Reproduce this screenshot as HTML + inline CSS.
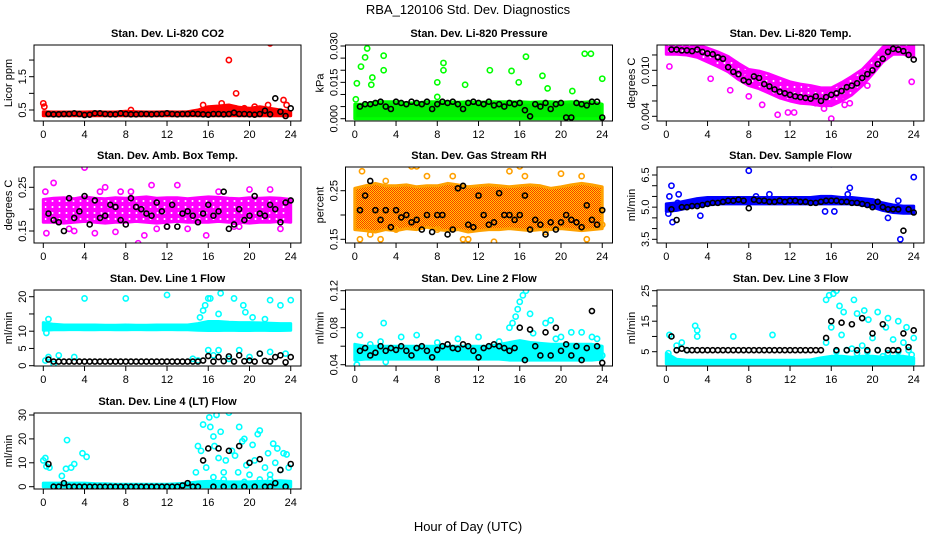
<!DOCTYPE html>
<html><head><meta charset="utf-8"><style>
html,body{margin:0;padding:0;background:#fff;}
svg{display:block;font-family:"Liberation Sans",Arial,sans-serif;}
</style></head><body>
<svg id="chart" width="936" height="540" viewBox="0 0 936 540" xmlns="http://www.w3.org/2000/svg">
<defs>
<pattern id="rhpat" width="2" height="2" patternUnits="userSpaceOnUse"><rect width="2" height="2" fill="#ffd200"/><rect width="1" height="1" fill="#ff3000"/><rect x="1" y="1" width="1" height="1" fill="#ff3000"/></pattern>
<pattern id="magpat" width="7" height="6" patternUnits="userSpaceOnUse"><rect width="7" height="6" fill="#ff00ff"/><circle cx="3.5" cy="3" r="1" fill="#ffffff"/></pattern>
</defs>
<text x="468" y="14" font-size="13" text-anchor="middle">RBA_120106  Std. Dev. Diagnostics</text>
<text x="468" y="531" font-size="13" text-anchor="middle">Hour of Day (UTC)</text>
<g id="plots"></g>
</svg>
<script>
// ---- data arrays (hours 0..24 for bands; black points at 0.5,1.0,...,24) ----
const xTicks = [0,4,8,12,16,20,24];

const co2BandLo = [0.33,0.33,0.33,0.33,0.33,0.33,0.33,0.33,0.33,0.33,0.33,0.33,0.33,0.33,0.33,0.33,0.33,0.33,0.33,0.33,0.33,0.33,0.33,0.33,0.33];
const co2BandHi = [0.45,0.44,0.44,0.44,0.44,0.45,0.44,0.44,0.46,0.45,0.44,0.44,0.45,0.44,0.45,0.5,0.6,0.62,0.65,0.58,0.55,0.6,0.55,0.5,0.45];
const co2Pts = [0,0.7,0.1,0.6,8.5,0.5,15.5,0.65,17.3,0.7,18,2.0,18.7,1.0,18.6,0.55,19.5,0.55,22,2.5,21.8,0.65,23.3,0.8,23.6,0.65,20.5,0.6];
const co2Black = [0.38,0.37,0.37,0.38,0.38,0.4,0.38,0.35,0.36,0.4,0.4,0.38,0.37,0.37,0.4,0.38,0.37,0.37,0.38,0.38,0.37,0.38,0.38,0.4,0.38,0.37,0.38,0.38,0.39,0.38,0.37,0.36,0.38,0.38,0.37,0.38,0.42,0.38,0.38,0.37,0.36,0.38,0.48,0.37,0.85,0.45,0.32,0.55];

const presBandLo = [0,0,0,0,0,0,0,0,0,0,0,0,0,0,0,0,0,0,0,0,0,0,0,0,0];
const presBandHi = [0.006,0.006,0.007,0.007,0.007,0.0065,0.0065,0.007,0.007,0.007,0.0068,0.007,0.0068,0.007,0.007,0.007,0.007,0.0068,0.007,0.007,0.0068,0.007,0.0068,0.007,0.006];
const presPts = [0.1,0.008,0.2,0.0146,0.6,0.0215,1.0,0.0253,1.2,0.029,1.7,0.017,1.6,0.014,2.8,0.020,2.8,0.026,8.0,0.015,8.0,0.009,8.6,0.023,8.6,0.020,10.7,0.014,13.1,0.020,15.2,0.0197,15.9,0.015,16.6,0.0256,18.2,0.0177,18.7,0.0125,21.1,0.0114,22.3,0.0268,22.9,0.0268,24.0,0.0165];
const presBlack = [0.005,0.006,0.006,0.0065,0.007,0.005,0.004,0.007,0.0065,0.006,0.007,0.0065,0.006,0.007,0.004,0.006,0.007,0.0065,0.007,0.006,0.004,0.0065,0.007,0.0065,0.006,0.007,0.0055,0.006,0.005,0.0065,0.006,0.0065,0.0035,0.001,0.006,0.005,0.0065,0.004,0.006,0.0065,0.0005,0.0005,0.0065,0.006,0.0055,0.007,0.007,0.0005];

const tempBandLo = [0.0121,0.0121,0.0120,0.0117,0.0111,0.0105,0.0098,0.0088,0.0080,0.0076,0.0070,0.0064,0.0060,0.0057,0.0056,0.0054,0.0054,0.0060,0.0068,0.0080,0.0095,0.0111,0.0121,0.0121,0.0117];
const tempBandHi = [0.0136,0.0136,0.0135,0.0133,0.0129,0.0124,0.0118,0.0109,0.0101,0.0099,0.0095,0.0090,0.0085,0.0082,0.0080,0.0077,0.0077,0.0084,0.0092,0.0101,0.0115,0.0130,0.0136,0.0136,0.0133];
const tempPts = [0.3,0.0105,4.3,0.0089,6.2,0.0074,8,0.0066,10.8,0.0042,11.8,0.0045,12.4,0.0045,15.3,0.0050,16,0.0037,17.3,0.0055,17.8,0.0057,19.5,0.0080,23.8,0.0085,9.3,0.0055,14.5,0.0057,7.5,0.0095,13,0.0078];
const tempBlack = [0.0127,0.0127,0.0126,0.0126,0.0125,0.0127,0.0124,0.0122,0.0121,0.0117,0.0115,0.0104,0.0098,0.0095,0.0087,0.0085,0.0092,0.0090,0.0082,0.0079,0.0075,0.0072,0.0070,0.0068,0.0066,0.0065,0.0064,0.0063,0.0066,0.0060,0.0065,0.0068,0.0070,0.0073,0.0078,0.0080,0.0083,0.0090,0.0095,0.0100,0.0108,0.0115,0.0124,0.0128,0.0127,0.0125,0.0120,0.0114];

const ambBandLo = [0.17,0.17,0.168,0.17,0.172,0.17,0.168,0.17,0.17,0.172,0.17,0.168,0.17,0.172,0.17,0.17,0.17,0.172,0.17,0.17,0.168,0.17,0.17,0.172,0.17];
const ambBandHi = [0.222,0.225,0.226,0.224,0.228,0.225,0.224,0.226,0.225,0.226,0.228,0.225,0.226,0.226,0.224,0.226,0.228,0.227,0.225,0.224,0.226,0.225,0.226,0.225,0.222];
const ambPts = [4,0.295,1,0.26,7.5,0.24,8.5,0.24,10.5,0.255,13,0.255,17,0.24,0.3,0.145,2.5,0.155,7,0.148,9.8,0.14,11,0.155,14,0.155,15.8,0.14,18.5,0.16,23,0.155,9.2,0.122,22,0.245,6,0.25,3,0.15,20,0.245,12,0.16,5,0.145,19,0.16,0.2,0.24,5.5,0.24];
const ambBlack = [0.19,0.175,0.17,0.15,0.225,0.18,0.195,0.23,0.165,0.22,0.18,0.185,0.21,0.205,0.175,0.165,0.225,0.205,0.2,0.19,0.185,0.215,0.195,0.16,0.21,0.16,0.19,0.195,0.185,0.17,0.19,0.21,0.185,0.195,0.24,0.155,0.165,0.2,0.175,0.185,0.23,0.19,0.185,0.21,0.2,0.17,0.215,0.22];

const rhBandLo = [0.17,0.168,0.165,0.17,0.168,0.172,0.17,0.175,0.17,0.168,0.17,0.165,0.168,0.17,0.17,0.172,0.17,0.168,0.17,0.17,0.172,0.17,0.168,0.17,0.172];
const rhBandHi = [0.255,0.26,0.265,0.26,0.26,0.262,0.258,0.26,0.26,0.265,0.262,0.258,0.26,0.262,0.26,0.258,0.26,0.262,0.26,0.255,0.258,0.262,0.265,0.262,0.258];
const rhPts = [0.5,0.15,0.7,0.29,2.5,0.15,3,0.27,5.5,0.3,6,0.3,7,0.28,8,0.17,9.5,0.28,10.5,0.15,11,0.15,13.5,0.145,15,0.29,16,0.3,16.5,0.28,18.5,0.165,22,0.28,22.5,0.15,24,0.18,4,0.17,20,0.285,1.5,0.16];
const rhBlack = [0.21,0.24,0.27,0.21,0.19,0.21,0.175,0.21,0.195,0.2,0.185,0.19,0.17,0.2,0.165,0.2,0.2,0.16,0.17,0.255,0.26,0.18,0.175,0.24,0.2,0.18,0.185,0.245,0.2,0.2,0.19,0.2,0.24,0.17,0.19,0.18,0.16,0.185,0.17,0.185,0.2,0.19,0.185,0.175,0.22,0.19,0.18,0.21];

const flowBandLo = [4.8,4.85,4.95,5.05,5.1,5.15,5.15,5.15,5.15,5.15,5.15,5.15,5.15,5.15,5.15,5.15,5.15,5.15,5.15,5.1,5.0,4.85,4.75,4.72,4.72];
const flowBandHi = [5.15,5.2,5.3,5.4,5.45,5.45,5.45,5.45,5.45,5.45,5.45,5.45,5.45,5.45,5.45,5.5,5.5,5.45,5.45,5.4,5.35,5.2,5.1,5.05,5.05];
const flowPts = [0.3,5.5,0.5,6.0,0.6,4.3,1.1,5.2,3.3,4.6,8,6.7,10,5.6,8.7,5.5,15.4,4.8,16,7.0,16.3,4.8,17.6,5.6,17.8,5.9,22.5,5.3,22.7,3.5,24,6.4,21.5,4.5,0.2,4.7,1.2,5.6];
const flowBlack = [4.9,4.4,5.0,5.0,5.05,5.05,5.1,5.15,5.2,5.2,5.25,5.3,5.3,5.35,5.3,4.95,5.35,5.3,5.3,5.25,5.25,5.3,5.25,5.3,5.3,5.25,5.25,5.2,5.2,5.25,5.3,5.3,5.3,5.25,5.25,5.2,5.2,5.15,5.1,5.0,5.25,5.0,4.9,4.9,4.9,3.9,4.9,4.75];

const l1BandLo = [10.3,10.4,10.4,10.5,10.4,10.4,10.5,10.4,10.4,10.5,10.4,10.4,10.5,10.4,10.4,10.3,10.2,10.2,10.3,10.2,10.2,10.3,10.2,10.2,10.3];
const l1BandHi = [12.5,12.0,11.8,11.8,11.8,11.8,11.7,11.7,11.8,11.7,11.7,11.8,11.8,11.8,11.8,12.2,12.8,12.8,12.6,12.5,12.5,12.4,12.3,12.2,12.2];
const l1Pts = [0.5,13.5,0.3,9.5,4,19.5,8,19.5,12,20.5,15.5,16,15.7,17.5,16,19.5,16.2,19.5,17,15,17.2,21,18.5,19.5,19.4,17.5,19.6,15.5,20.3,14,21.5,13.5,22,19,23,17.5,24,19,15.2,14,0.5,2.5,1.5,3,3,2.5,16,4.5,17,4.5,19,4.5,21,3.5,22,4,23.5,3.5,18,2,20,2.5,16.5,3,0.2,1.5,1,0.5,14.5,2,15,1.5];
const l1Black = [1.8,1.2,1.2,1.2,1.2,1.2,1.2,1.2,1.2,1.2,1.2,1.2,1.2,1.2,1.2,1.2,1.2,1.2,1.2,1.2,1.2,1.2,1.2,1.2,1.2,1.2,1.2,1.2,1.2,1.2,1.5,2.8,1.2,2.5,1.3,2.7,1.2,3.0,1.3,1.5,1.2,3.5,1.4,1.2,2.5,3.0,1.0,2.5];

const l2BandLo = [0.045,0.046,0.046,0.046,0.046,0.046,0.046,0.046,0.046,0.046,0.046,0.046,0.046,0.046,0.046,0.045,0.045,0.045,0.045,0.045,0.045,0.045,0.045,0.045,0.046];
const l2BandHi = [0.062,0.06,0.06,0.06,0.06,0.06,0.06,0.06,0.06,0.06,0.06,0.06,0.06,0.06,0.062,0.064,0.066,0.064,0.063,0.062,0.062,0.062,0.062,0.062,0.06];
const l2Pts = [0.5,0.072,1.5,0.062,2.5,0.065,2.8,0.085,3,0.043,4.5,0.07,6,0.072,8,0.064,10,0.068,12,0.07,14,0.065,15,0.08,15.3,0.085,15.6,0.092,15.8,0.1,16,0.108,16.3,0.115,16.6,0.12,17,0.095,17.3,0.074,18.5,0.085,19,0.088,19.5,0.068,20,0.07,21,0.075,22,0.075,22.3,0.125,23,0.07,23.5,0.068,24,0.05,0.2,0.04];
const l2Black = [0.055,0.058,0.05,0.053,0.06,0.055,0.058,0.056,0.06,0.055,0.05,0.058,0.06,0.055,0.048,0.056,0.06,0.062,0.058,0.057,0.062,0.06,0.055,0.048,0.058,0.06,0.062,0.06,0.058,0.055,0.058,0.08,0.045,0.078,0.06,0.05,0.075,0.05,0.08,0.055,0.062,0.05,0.06,0.045,0.058,0.098,0.06,0.042];

const l3BandLo = [1.0,1.0,1.0,1.0,1.0,1.0,1.0,1.0,1.0,1.0,1.0,1.0,1.0,1.0,1.0,1.0,1.0,1.0,1.0,1.0,1.0,1.0,1.0,1.0,1.0];
const l3BandHi = [4.5,2.5,2.2,2.2,2.2,2.2,2.2,2.2,2.2,2.2,2.2,2.2,2.2,2.2,2.3,3.0,3.5,3.5,3.2,3.5,3.5,3.2,3.5,3.5,3.0];
const l3Pts = [0.3,10.5,1,7,1.5,8,2.8,13.5,3,12,3,10,6.5,10,10.3,10.5,15.5,22,15.8,23.5,16.2,24,16.5,25,16.8,20,17.2,18,18.2,22,18.5,17.5,19.2,18.5,19.6,15.5,20.5,18,21.3,13,21.5,16,22.5,15,23.3,13,24,9.5,16,13,17,10.5,20,9.5,22,9,15.5,8,18,6,19,7,23,8,2,5.5,21,3.5,23.8,4,0.2,4.5,16.5,5,17.5,5.5,18.5,4.5,19.5,5,20.5,5.5,21.5,4.5,22.5,5,23.5,5.5];
const l3Black = [10,5.5,6,5.5,5.5,5.5,5.5,5.5,5.5,5.5,5.5,5.5,5.5,5.5,5.5,5.5,5.5,5.5,5.5,5.5,5.5,5.5,5.5,5.5,5.5,5.5,5.5,5.5,5.5,5.5,9.5,15,5.5,14.5,5.5,14,5.5,16,5.5,11,5.5,14,5.5,5.5,5.5,11,6.5,12];

const l4BandLo = [0,0,0,0,0,0,0,0,0,0,0,0,0,0,0,0,0,0,0,0,0,0,0,0,0];
const l4BandHi = [1.5,1.5,1.5,1.5,1.5,1.3,1.2,1.0,1.0,1.0,1.0,1.0,1.0,1.2,1.5,2.0,2.2,2.2,2.0,2.0,2.0,2.2,2.2,2.5,2.2];
const l4Pts = [0,11,0.2,12,0.3,8.5,0.6,8,2.3,19.5,2.2,7.5,2.7,8,3,9.5,3.8,14,4.2,12.5,1.8,4.5,14.8,6,15,17,15.3,15,15.5,26,15.8,8,16.1,29,16.2,25,16.5,21,16.6,17,16.8,30,17,12,17.2,23,17.5,6,17.7,11,18,31,18.3,15,18.6,13,18.9,6,19,25,19.3,19,19.5,20,19.7,9,20,5,20.3,17.5,20.5,11,20.8,22,21,23.5,21.5,8,21.8,14,22,5,22.3,18,22.5,10,22.7,16,23,7,23.3,14,23.6,13.5,23.8,8,19.5,2,21,3,22,3,16.5,4,17.5,3];
const l4Black = [9.5,0,0,1.5,0,0,0,0,0,0,0,0,0,0,0,0,0,0,0,0,0,0,0,0,0,0,0.5,1.5,0,0,11,16,0,16,0,15,0,17,0,10,0,11.5,0,0,1.5,7,0,9.5];

// ---- layout (not data) ----
const colL = [34, 345.5, 657];
const rowT = [45, 167, 290, 413];
const BOXW = 267, BOXH = 76;
const NS = 'http://www.w3.org/2000/svg';
const root = document.getElementById('plots');

function el(tag, attrs, parent) {
  const e = document.createElementNS(NS, tag);
  for (const k in attrs) e.setAttribute(k, attrs[k]);
  (parent || root).appendChild(e);
  return e;
}

function drawPanel(key, col, row, title, ylab, v0, p0, v1, p1, yt, ylabels, color, fill, bandLo, bandHi, pts, black) {
  const L = colL[col], T = rowT[row];
  const xs = h => L + 9.3 + h * 10.31;
  const ys = v => p0 + (v - v0) * (p1 - p0) / (v1 - v0);
  const g = el('g', {});
  
  
  const clipId = 'clip-' + key;
  const cp = el('clipPath', {id: clipId}, g);
  el('rect', {x: L, y: T, width: BOXW, height: BOXH}, cp);
  const t = el('text', {x: L + BOXW / 2, y: T - 8, 'font-size': 11, 'font-weight': 'bold', 'text-anchor': 'middle'}, g);
  t.textContent = title;
  
  
  const yl = el('text', {x: 0, y: 0, 'font-size': 11, 'text-anchor': 'middle', transform: 'translate(' + (L - 22) + ',' + (T + BOXH / 2) + ') rotate(-90)'}, g);
  yl.textContent = ylab;
  
  
  const marks = el('g', {'clip-path': 'url(#' + clipId + ')'}, g);
  
  
  let d = '';
  for (let i = 0; i < bandHi.length; i++) d += (i ? 'L' : 'M') + xs(i).toFixed(1) + ',' + ys(bandHi[i]).toFixed(1);
  for (let i = bandLo.length - 1; i >= 0; i--) d += 'L' + xs(i).toFixed(1) + ',' + ys(bandLo[i]).toFixed(1);
  const band = el('path', {d: d + 'Z', fill: fill, stroke: color, 'stroke-width': 3, 'stroke-linejoin': 'round'}, marks);
  
  
  for (let i = 0; i + 1 < pts.length; i += 2) {
    const c = el('circle', {cx: xs(pts[i]), cy: ys(pts[i + 1]), r: 2.6, fill: 'none', stroke: color, 'stroke-width': 1.6}, marks);
    
    
  }
  for (let i = 0; i < black.length; i++) {
    const c = el('circle', {cx: xs((i + 1) * 0.5), cy: ys(black[i]), r: 2.5, fill: 'none', stroke: '#000', 'stroke-width': 1.6}, marks);
    
    
  }
  const box = el('rect', {x: L, y: T, width: BOXW, height: BOXH, fill: 'none', stroke: '#000', 'stroke-width': 1}, g);
  
  
  const xa = el('g', {}, g);
  
  
  el('line', {x1: xs(xTicks[0]), x2: xs(xTicks[xTicks.length - 1]), y1: T + BOXH, y2: T + BOXH, stroke: '#000'}, xa);
  xTicks.forEach(h => {
    el('line', {x1: xs(h), x2: xs(h), y1: T + BOXH, y2: T + BOXH + 5, stroke: '#000'}, xa);
    const tl = el('text', {x: xs(h), y: T + BOXH + 17, 'font-size': 11, 'text-anchor': 'middle'}, xa);
    tl.textContent = h;
    
    
  });
  const ya = el('g', {}, g);
  
  
  yt.forEach((v, i) => {
    const y = ys(v);
    el('line', {x1: L - 5, x2: L, y1: y, y2: y, stroke: '#000'}, ya);
    if (ylabels[i]) {
      const tl = el('text', {x: 0, y: 0, 'font-size': 11, 'text-anchor': 'middle', transform: 'translate(' + (L - 8) + ',' + y + ') rotate(-90)'}, ya);
      tl.textContent = ylabels[i];
      
      
    }
  });
}

drawPanel('co2', 0, 0, 'Stan. Dev. Li-820 CO2', 'Licor ppm', 0.5, 110, 1.5, 76.7, [0.5,1,1.5,2], ['0.5','','1.5',''], '#ff0000', '#ff0000', co2BandLo, co2BandHi, co2Pts, co2Black);
drawPanel('pressure', 1, 0, 'Stan. Dev. Li-820 Pressure', 'kPa', 0, 118.7, 0.03, 46, [0,0.005,0.01,0.015,0.02,0.025,0.03], ['0.000','','','0.015','','','0.030'], '#00ff00', '#00ee00', presBandLo, presBandHi, presPts, presBlack);
drawPanel('temp', 2, 0, 'Stan. Dev. Li-820 Temp.', 'degrees C', 0.004, 116.3, 0.010, 70.3, [0.004,0.006,0.008,0.010,0.012], ['0.004','','','0.010',''], '#ff00ff', 'url(#magpat)', tempBandLo, tempBandHi, tempPts, tempBlack);
drawPanel('ambbox', 0, 1, 'Stan. Dev. Amb. Box Temp.', 'degrees C', 0.15, 231, 0.25, 187.3, [0.15,0.2,0.25], ['0.15','','0.25'], '#ff00ff', 'url(#magpat)', ambBandLo, ambBandHi, ambPts, ambBlack);
drawPanel('rh', 1, 1, 'Stan. Dev. Gas Stream RH', 'percent', 0.15, 239.3, 0.25, 190.7, [0.15,0.2,0.25], ['0.15','','0.25'], '#ffa000', 'url(#rhpat)', rhBandLo, rhBandHi, rhPts, rhBlack);
drawPanel('flow', 2, 1, 'Stan. Dev. Sample Flow', 'ml/min', 3.5, 239.3, 6.5, 175, [3.5,4,4.5,5,5.5,6,6.5], ['3.5','','','5.0','','','6.5'], '#0000ff', '#0000ff', flowBandLo, flowBandHi, flowPts, flowBlack);
drawPanel('line1', 0, 2, 'Stan. Dev. Line 1 Flow', 'ml/min', 0, 365.7, 20, 296.7, [0,5,10,15,20], ['0','5','10','','20'], '#00ffff', '#00ffff', l1BandLo, l1BandHi, l1Pts, l1Black);
drawPanel('line2', 1, 2, 'Stan. Dev. Line 2 Flow', 'ml/min', 0.04, 364.7, 0.12, 290.7, [0.04,0.06,0.08,0.1,0.12], ['0.04','','0.08','','0.12'], '#00ffff', '#00ffff', l2BandLo, l2BandHi, l2Pts, l2Black);
drawPanel('line3', 2, 2, 'Stan. Dev. Line 3 Flow', 'ml/min', 5, 351.7, 25, 290.7, [5,10,15,20,25], ['5','','15','','25'], '#00ffff', '#00ffff', l3BandLo, l3BandHi, l3Pts, l3Black);
drawPanel('line4', 0, 3, 'Stan. Dev. Line 4 (LT) Flow', 'ml/min', 0, 486.7, 30, 415, [0,10,20,30], ['0','10','20','30'], '#00ffff', '#00ffff', l4BandLo, l4BandHi, l4Pts, l4Black);
</script>
</body></html>
